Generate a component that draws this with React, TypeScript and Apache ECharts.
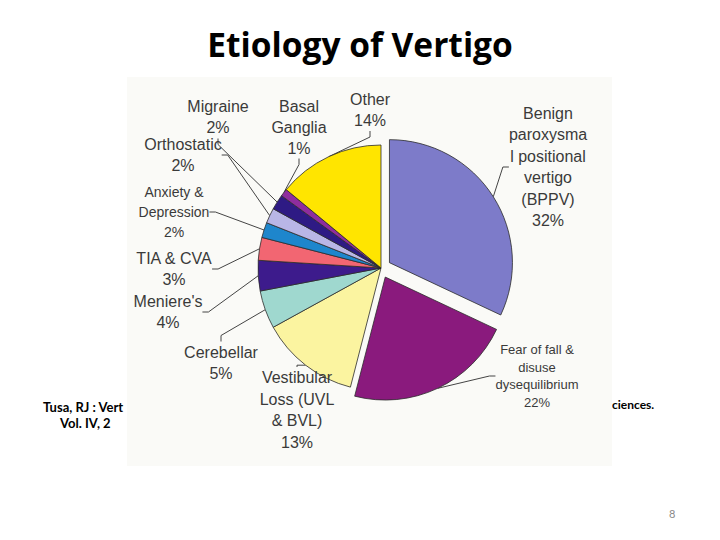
import React, { useEffect, useRef } from "react";
import * as echarts from "echarts";

const categories = [
  "Benign\nparoxysma\nl positional\nvertigo\n(BPPV)",
  "Fear of fall &\ndisuse\ndysequilibrium",
  "Vestibular\nLoss (UVL\n& BVL)",
  "Cerebellar",
  "Meniere's",
  "TIA & CVA",
  "Anxiety &\nDepression",
  "Orthostatic",
  "Migraine",
  "Basal\nGanglia",
  "Other",
];
const values = [32, 22, 13, 5, 4, 3, 2, 2, 2, 1, 14];
const explodedIdx = [0, 1];

const sliceColors = [
  "#7d7bc9", "#8a1a7d", "#fbf4a0", "#9fd8cf", "#3d1b8c", "#f26672",
  "#1e86cc", "#b9b6e6", "#2e1a84", "#8f2d9e", "#ffe500",
];
const labelCenters = [
  [548, 167], [537, 376], [297, 410], [221, 363], [168, 312], [174, 269],
  [174, 212], [183, 155], [218, 117], [299, 127], [370, 110],
];
const labelSizes = [16, 13, 16, 16, 16, 16, 14, 16, 16, 16, 16];
const labelLineHeights = [21.5, 17.5, 21.5, 21.5, 21.5, 21.5, 20, 21.5, 21.5, 21, 21];

const CX = 381;
const CY = 268;
const R = 123;
const OFFSET = 10;

export default function App() {
  const ref = useRef<HTMLDivElement>(null);
  useEffect(() => {
    document.body.style.margin = "0";
    const chart = echarts.init(ref.current!, null, { renderer: "svg" });
    const total = values.reduce((a, b) => a + b, 0);

    const makeSeries = (visible: (i: number) => boolean, center: number[], z: number) => ({
      type: "pie",
      center,
      radius: R,
      startAngle: 90,
      clockwise: true,
      z,
      silent: true,
      itemStyle: { borderColor: "#2b2b2b", borderWidth: 0.8 },
      emphasis: { scale: false },
      label: {
        show: true,
        position: "outside",
        formatter: "{b}\n{c}%",
        color: "#3a3a3a",
        fontFamily: "Liberation Sans",
        fontSize: 16,
        align: "center",
      },
      labelLine: { show: true, length: 8, length2: 6, lineStyle: { color: "#444", width: 1 } },
      labelLayout: (p: any) => {
        const c = labelCenters[p.dataIndex];
        return { x: c[0], y: c[1], align: "center", verticalAlign: "middle" };
      },
      data: categories.map((name, i) => {
        const vis = visible(i);
        return {
          name,
          value: values[i],
          itemStyle: vis
            ? { color: sliceColors[i] }
            : { color: "rgba(0,0,0,0)", borderWidth: 0 },
          label: vis
            ? { fontSize: labelSizes[i], lineHeight: labelLineHeights[i] }
            : { show: false },
          labelLine: { show: vis },
        };
      }),
    });

    const series: any[] = [makeSeries((i) => !explodedIdx.includes(i), [CX, CY], 5)];
    explodedIdx.forEach((k) => {
      const before = values.slice(0, k).reduce((a, b) => a + b, 0);
      const mid = ((before + values[k] / 2) / total) * Math.PI * 2;
      const dx = Math.sin(mid) * OFFSET;
      const dy = -Math.cos(mid) * OFFSET;
      series.push(makeSeries((i) => i === k, [CX + dx, CY + dy], 6));
    });

    chart.setOption({
      animation: false,
      backgroundColor: "#ffffff",
      title: {
        text: "Etiology of Vertigo",
        left: "center",
        top: 22,
        textStyle: { fontFamily: "Open Sans", fontWeight: "bold", fontSize: 33.5, color: "#000" },
      },
      graphic: [
        { type: "text", left: 43, top: 400, style: { text: "Tusa, RJ : Vert", font: "bold 13px Lato", fill: "#000" }, z: 0 },
        { type: "text", left: 60, top: 416, style: { text: "Vol. IV, 2", font: "bold 13px Lato", fill: "#000" }, z: 0 },
        { type: "text", left: 612, top: 398, style: { text: "ciences.", font: "bold 12px Lato", fill: "#000" }, z: 0 },
        { type: "text", left: 669, top: 508, style: { text: "8", font: "11px Lato", fill: "#8a8a8a" }, z: 0 },
        { type: "rect", shape: { x: 127, y: 77, width: 485, height: 389 }, style: { fill: "#fafaf7" }, z: 1 },
      ],
      series,
    });
    return () => chart.dispose();
  }, []);
  return <div ref={ref} style={{ position: "fixed", left: 0, top: 0, width: 720, height: 540 }} />;
}
